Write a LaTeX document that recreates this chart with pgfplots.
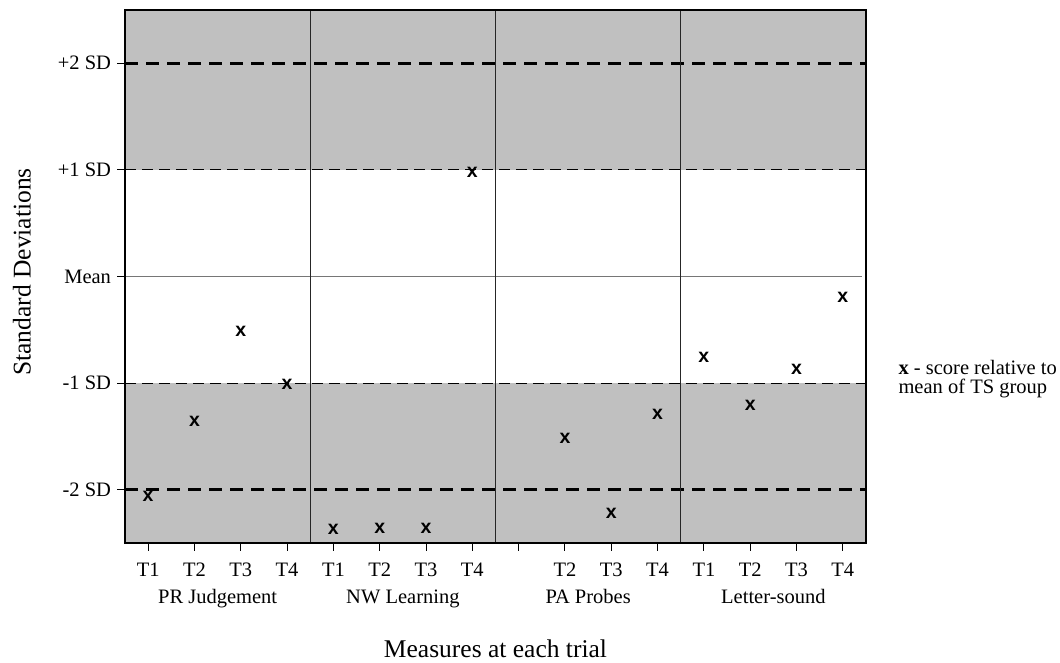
\documentclass[border=0pt]{standalone}
\usepackage{fontspec}
\setmainfont{Liberation Serif}
\newfontfamily\marksans{Liberation Sans}
\usepackage{pgfplots}
\pgfplotsset{compat=1.18}

\definecolor{band}{RGB}{192,192,192}
\definecolor{meanline}{RGB}{118,118,118}
\newcommand\tickfont{\fontsize{20.5bp}{24bp}\selectfont}
\newcommand\labelfont{\fontsize{25.5bp}{30bp}\selectfont}
\newcommand\markfont{\fontsize{19.5bp}{20bp}\selectfont\marksans\bfseries}

\pgfplotsset{score/.style={only marks, mark=text, text mark={x},
  text mark as node=true, text mark style={font=\markfont, inner sep=0pt, black}}}

\begin{document}
\begin{tikzpicture}
\useasboundingbox (0,0) rectangle (1060bp,663bp);
\begin{axis}[
  at={(125bp,120bp)}, anchor=south west,
  width=741bp, height=533bp, scale only axis,
  xmin=0, xmax=16, ymin=-2.5, ymax=2.5,
  clip=false, axis on top,
  axis line style={line width=1.4bp},
  tick align=outside, xtick pos=bottom, ytick pos=left,
  major tick length=7.5bp,
  tick style={black, line width=1bp},
  ticklabel style={font=\tickfont},
  xtick={0.5,1.5,...,15.5},
  xticklabels={T1,T2,T3,T4,T1,T2,T3,T4,{},T2,T3,T4,T1,T2,T3,T4},
  ytick={-2,-1,0,1,2},
  yticklabels={-2 SD,-1 SD,Mean,+1 SD,+2 SD},
  xticklabel style={anchor=base, yshift=-26bp},
  yticklabel style={anchor=east, xshift=-3bp},
]
% shaded bands beyond one standard deviation
\fill[band] (axis cs:0,1) rectangle (axis cs:16,2.5);
\fill[band] (axis cs:0,-2.5) rectangle (axis cs:16,-1);
% reference levels
\draw[meanline, line width=1.2bp] (axis cs:0,0) -- (axis cs:15.92,0);
\draw[black, line width=1.1bp, dash pattern=on 11bp off 6bp] (axis cs:0,1) -- (axis cs:16,1);
\draw[black, line width=1.1bp, dash pattern=on 11bp off 6bp] (axis cs:0,-1) -- (axis cs:16,-1);
\draw[black, line width=2.6bp, dash pattern=on 13bp off 8bp] (axis cs:0,2) -- (axis cs:16,2);
\draw[black, line width=2.6bp, dash pattern=on 13bp off 8bp] (axis cs:0,-2) -- (axis cs:16,-2);
% measure separators
\pgfplotsinvokeforeach{4,8,12}{
  \draw[black!85, line width=1bp] (axis cs:#1,2.5) -- (axis cs:#1,-2.5) -- ++(0,-32bp);
}
\draw[black, line width=1.4bp] (axis cs:0,-2.5) -- ++(0,-31bp);
\draw[black, line width=1.4bp] (axis cs:16,-2.5) -- ++(0,-31bp);
% measure names
\node[font=\tickfont, anchor=base] at ([yshift=-60bp]axis cs:2,-2.5) {PR Judgement};
\node[font=\tickfont, anchor=base] at ([yshift=-60bp]axis cs:6,-2.5) {NW Learning};
\node[font=\tickfont, anchor=base] at ([yshift=-60bp]axis cs:10,-2.5) {PA Probes};
\node[font=\tickfont, anchor=base] at ([yshift=-60bp]axis cs:14,-2.5) {Letter-sound};
% scores relative to the TS group mean
\addplot[score] coordinates {(0.5,-2.06) (1.5,-1.36) (2.5,-0.51) (3.5,-1.01)};
\addplot[score] coordinates {(4.5,-2.37) (5.5,-2.36) (6.5,-2.36) (7.5,0.98)};
\addplot[score] coordinates {(9.5,-1.52) (10.5,-2.22) (11.5,-1.29)};
\addplot[score] coordinates {(12.5,-0.76) (13.5,-1.21) (14.5,-0.87) (15.5,-0.20)};
\end{axis}
\node[font=\labelfont, rotate=90] at (22bp,391bp) {Standard Deviations};
\node[font=\labelfont, anchor=base] at (495.5bp,6bp) {Measures at each trial};
\node[font=\fontsize{20.5bp}{19.5bp}\selectfont, anchor=base west, align=left] at (895bp,269bp)
  {\textbf{x} - score relative to\\mean of TS group};
\end{tikzpicture}
\end{document}
